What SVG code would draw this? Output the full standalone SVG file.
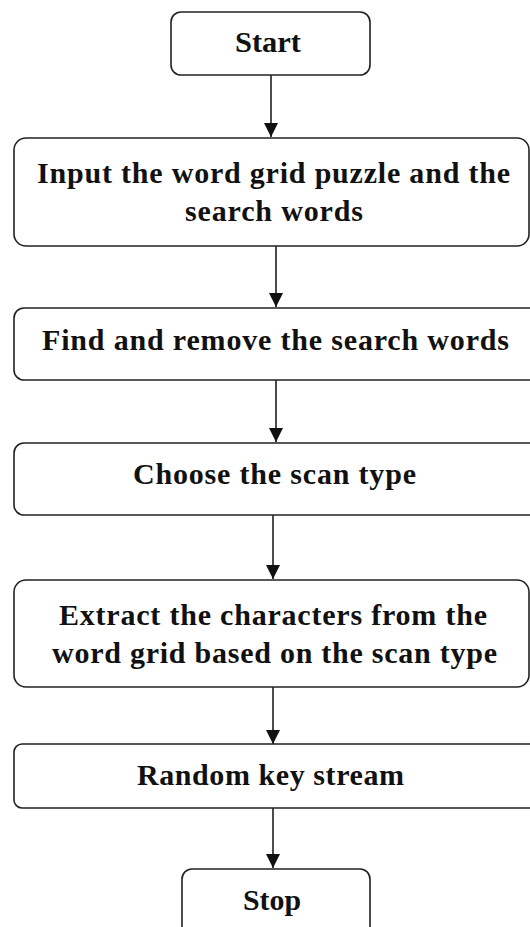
<svg xmlns="http://www.w3.org/2000/svg" width="530" height="927" viewBox="0 0 530 927">
  <style>
    .box { fill: #ffffff; stroke: #222222; stroke-width: 1.6; }
    .lbl { font-family: "Liberation Serif", "Times New Roman", serif; font-weight: bold; font-size: 30px; fill: #111111; }
    .conn { stroke: #111111; stroke-width: 1.5; fill: none; marker-end: url(#arrow); }
  </style>
  <defs>
    <marker id="arrow" viewBox="0 0 14 14" refX="14" refY="7" markerWidth="14" markerHeight="14" markerUnits="userSpaceOnUse" orient="auto">
      <path d="M0,0 L14,7 L0,14 z" fill="#111111"/>
    </marker>
  </defs>
  <rect width="530" height="927" fill="#ffffff"/>

  <g id="connectors">
    <line class="conn" x1="271" y1="75" x2="271" y2="137"/>
    <line class="conn" x1="276" y1="246" x2="276" y2="307"/>
    <line class="conn" x1="276" y1="380" x2="276" y2="442"/>
    <line class="conn" x1="273" y1="515" x2="273" y2="579"/>
    <line class="conn" x1="273" y1="687" x2="273" y2="744"/>
    <line class="conn" x1="273" y1="808" x2="273" y2="868"/>
  </g>

  <g id="start">
    <rect class="box" x="171" y="12" width="199" height="63" rx="10"/>
    <text class="lbl" x="235" y="52" textLength="66" lengthAdjust="spacingAndGlyphs">Start</text>
  </g>

  <g id="input">
    <rect class="box" x="14" y="138" width="515" height="108" rx="12"/>
    <text class="lbl" x="37" y="183" textLength="473" lengthAdjust="spacing">Input the word grid puzzle and the</text>
    <text class="lbl" x="185" y="221" textLength="178" lengthAdjust="spacing">search words</text>
  </g>

  <g id="find">
    <rect class="box" x="14" y="308" width="530" height="72" rx="10"/>
    <text class="lbl" x="42" y="350" textLength="467" lengthAdjust="spacing">Find and remove the search words</text>
  </g>

  <g id="choose">
    <rect class="box" x="14" y="443" width="530" height="72" rx="10"/>
    <text class="lbl" x="133" y="484" textLength="283" lengthAdjust="spacing">Choose the scan type</text>
  </g>

  <g id="extract">
    <rect class="box" x="14" y="580" width="515" height="107" rx="12"/>
    <text class="lbl" x="59" y="625" textLength="428" lengthAdjust="spacing">Extract the characters from the</text>
    <text class="lbl" x="52" y="663" textLength="445" lengthAdjust="spacing">word grid based on the scan type</text>
  </g>

  <g id="random">
    <rect class="box" x="14" y="744" width="530" height="64" rx="8"/>
    <text class="lbl" x="137" y="785" textLength="267" lengthAdjust="spacing">Random key stream</text>
  </g>

  <g id="stop">
    <rect class="box" x="182" y="869" width="188" height="90" rx="10"/>
    <text class="lbl" x="243" y="910" textLength="58" lengthAdjust="spacingAndGlyphs">Stop</text>
  </g>
</svg>
